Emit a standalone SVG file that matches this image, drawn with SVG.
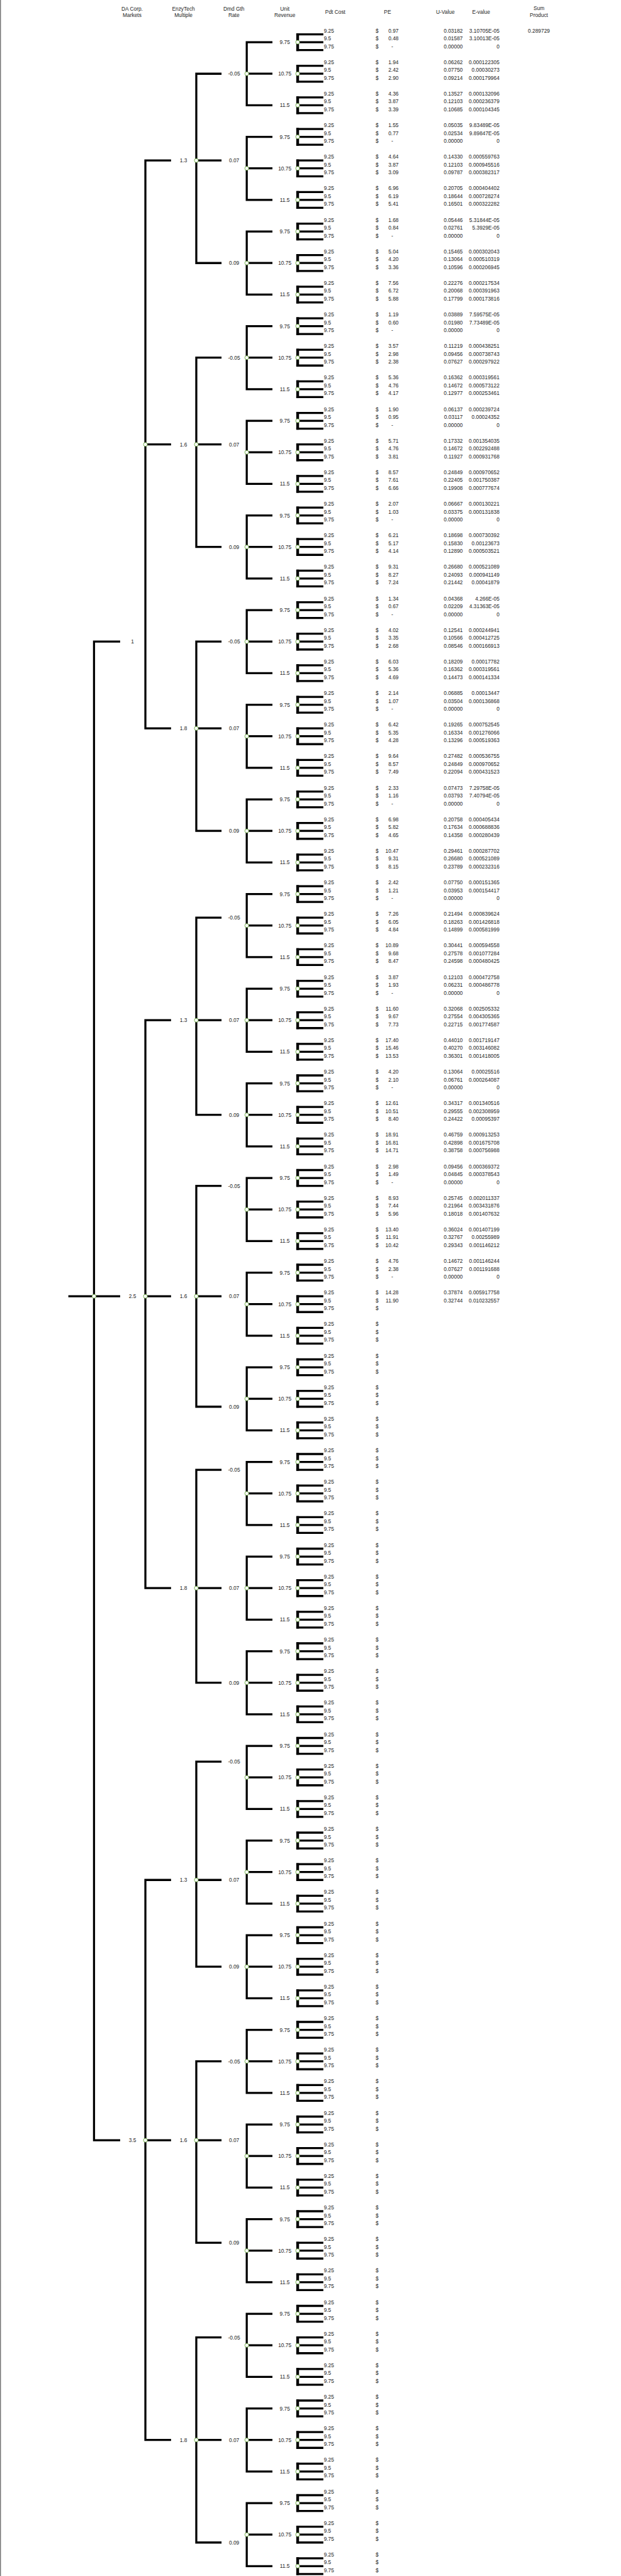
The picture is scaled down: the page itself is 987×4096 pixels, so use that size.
<svg xmlns="http://www.w3.org/2000/svg" xmlns:xlink="http://www.w3.org/1999/xlink" width="987" height="4096" viewBox="0 0 987 4096">
<style>
.t{font-family:"Liberation Sans",Arial,sans-serif;font-size:11.5px;fill:#1e1e1e}
.r{text-anchor:end}
.c{text-anchor:middle}
.nd{fill:#fff;stroke:#70ad47;stroke-width:1.3}
</style>
<defs>
<g id="lf"><path d="M646 74.8H705M646 92H705M646 109.2H705" stroke-width="4.5"/><path d="M649 72.6V111.4" stroke-width="6"/></g>
<g id="df"><path d="M594 92H538V229.6H594M538 160.8H594"/></g>
</defs>
<rect width="987" height="4096" fill="#fff"/>
<g transform="scale(0.72895)">
<path d="M1 0V5619" stroke="#777" stroke-width="2"/>
<g id="header">
<text class="t c" x="288" y="22.7">DA Corp.</text><text class="t c" x="288" y="37.3">Markets</text>
<text class="t c" x="400" y="22.7">EnzyTech</text><text class="t c" x="400" y="37.3">Multiple</text>
<text class="t c" x="510" y="22.7">Dmd Gth</text><text class="t c" x="510" y="37.3">Rate</text>
<text class="t c" x="621" y="22.7">Unit</text><text class="t c" x="621" y="37.3">Revenue</text>
<text class="t c" x="731" y="30.7">Pdt Cost</text>
<text class="t c" x="845" y="30.7">PE</text>
<text class="t c" x="971" y="30.7">U-Value</text>
<text class="t c" x="1049" y="30.7">E-value</text>
<text class="t c" x="1175" y="21.7">Sum</text><text class="t c" x="1175" y="37.3">Product</text>
<text class="t r" x="1199" y="70.7">0.289729</text>
</g>
<g id="connectors" fill="none" stroke="#000" stroke-width="4.5">
<path d="M262 1399.59H205V4668.54H262M149 2827.6H262"/>
<path d="M373 350.08H317V1588.84H373M317 969.46H373"/>
<path d="M373 2225.43H317V3464.19H373M317 2827.6H373"/>
<path d="M373 4100.77H317V5322.33H373M317 4668.54H373"/>
<path d="M483 160.83H428V573.75H483M428 350.08H483"/>
<path d="M483 780.21H428V1193.13H483M428 969.46H483"/>
<path d="M483 1399.59H428V1812.51H483M428 1588.84H483"/>
<path d="M483 2001.76H428V2431.89H483M428 2225.43H483"/>
<path d="M483 2586.73H428V3068.47H483M428 2827.6H483"/>
<path d="M483 3206.11H428V3670.65H483M428 3464.19H483"/>
<path d="M483 3842.7H428V4290.03H483M428 4100.77H483"/>
<path d="M483 4496.49H428V4892.2H483M428 4668.54H483"/>
<path d="M483 5098.66H428V5545.99H483M428 5322.33H483"/>
<use xlink:href="#df" y="0"/><use xlink:href="#df" y="206.46"/><use xlink:href="#df" y="412.92"/><use xlink:href="#df" y="619.38"/><use xlink:href="#df" y="825.84"/><use xlink:href="#df" y="1032.3"/><use xlink:href="#df" y="1238.76"/><use xlink:href="#df" y="1445.22"/><use xlink:href="#df" y="1651.68"/><use xlink:href="#df" y="1858.14"/><use xlink:href="#df" y="2064.6"/><use xlink:href="#df" y="2271.06"/><use xlink:href="#df" y="2477.52"/><use xlink:href="#df" y="2683.98"/><use xlink:href="#df" y="2890.44"/><use xlink:href="#df" y="3096.9"/><use xlink:href="#df" y="3303.36"/><use xlink:href="#df" y="3509.82"/><use xlink:href="#df" y="3716.28"/><use xlink:href="#df" y="3922.74"/><use xlink:href="#df" y="4129.2"/><use xlink:href="#df" y="4335.66"/><use xlink:href="#df" y="4542.12"/><use xlink:href="#df" y="4748.58"/><use xlink:href="#df" y="4955.04"/><use xlink:href="#df" y="5161.5"/><use xlink:href="#df" y="5367.96"/>
<use xlink:href="#lf" y="0"/><use xlink:href="#lf" y="68.82"/><use xlink:href="#lf" y="137.64"/><use xlink:href="#lf" y="206.46"/><use xlink:href="#lf" y="275.28"/><use xlink:href="#lf" y="344.1"/><use xlink:href="#lf" y="412.92"/><use xlink:href="#lf" y="481.74"/><use xlink:href="#lf" y="550.56"/><use xlink:href="#lf" y="619.38"/><use xlink:href="#lf" y="688.2"/><use xlink:href="#lf" y="757.02"/><use xlink:href="#lf" y="825.84"/><use xlink:href="#lf" y="894.66"/><use xlink:href="#lf" y="963.48"/><use xlink:href="#lf" y="1032.3"/><use xlink:href="#lf" y="1101.12"/><use xlink:href="#lf" y="1169.94"/><use xlink:href="#lf" y="1238.76"/><use xlink:href="#lf" y="1307.58"/><use xlink:href="#lf" y="1376.4"/><use xlink:href="#lf" y="1445.22"/><use xlink:href="#lf" y="1514.04"/><use xlink:href="#lf" y="1582.86"/><use xlink:href="#lf" y="1651.68"/><use xlink:href="#lf" y="1720.5"/><use xlink:href="#lf" y="1789.32"/><use xlink:href="#lf" y="1858.14"/><use xlink:href="#lf" y="1926.96"/><use xlink:href="#lf" y="1995.78"/><use xlink:href="#lf" y="2064.6"/><use xlink:href="#lf" y="2133.42"/><use xlink:href="#lf" y="2202.24"/><use xlink:href="#lf" y="2271.06"/><use xlink:href="#lf" y="2339.88"/><use xlink:href="#lf" y="2408.7"/><use xlink:href="#lf" y="2477.52"/><use xlink:href="#lf" y="2546.34"/><use xlink:href="#lf" y="2615.16"/><use xlink:href="#lf" y="2683.98"/><use xlink:href="#lf" y="2752.8"/><use xlink:href="#lf" y="2821.62"/><use xlink:href="#lf" y="2890.44"/><use xlink:href="#lf" y="2959.26"/><use xlink:href="#lf" y="3028.08"/><use xlink:href="#lf" y="3096.9"/><use xlink:href="#lf" y="3165.72"/><use xlink:href="#lf" y="3234.54"/><use xlink:href="#lf" y="3303.36"/><use xlink:href="#lf" y="3372.18"/><use xlink:href="#lf" y="3441"/><use xlink:href="#lf" y="3509.82"/><use xlink:href="#lf" y="3578.64"/><use xlink:href="#lf" y="3647.46"/><use xlink:href="#lf" y="3716.28"/><use xlink:href="#lf" y="3785.1"/><use xlink:href="#lf" y="3853.92"/><use xlink:href="#lf" y="3922.74"/><use xlink:href="#lf" y="3991.56"/><use xlink:href="#lf" y="4060.38"/><use xlink:href="#lf" y="4129.2"/><use xlink:href="#lf" y="4198.02"/><use xlink:href="#lf" y="4266.84"/><use xlink:href="#lf" y="4335.66"/><use xlink:href="#lf" y="4404.48"/><use xlink:href="#lf" y="4473.3"/><use xlink:href="#lf" y="4542.12"/><use xlink:href="#lf" y="4610.94"/><use xlink:href="#lf" y="4679.76"/><use xlink:href="#lf" y="4748.58"/><use xlink:href="#lf" y="4817.4"/><use xlink:href="#lf" y="4886.22"/><use xlink:href="#lf" y="4955.04"/><use xlink:href="#lf" y="5023.86"/><use xlink:href="#lf" y="5092.68"/><use xlink:href="#lf" y="5161.5"/><use xlink:href="#lf" y="5230.32"/><use xlink:href="#lf" y="5299.14"/><use xlink:href="#lf" y="5367.96"/><use xlink:href="#lf" y="5436.78"/><use xlink:href="#lf" y="5505.6"/>
</g>
<g id="root"><circle class="nd" cx="205" cy="2827.6" r="4.2"/></g>
<g id="da0"><circle class="nd" cx="317" cy="969.46" r="4.2"/><text class="t c" x="289" y="1403.8">1</text></g>
<g id="da1"><circle class="nd" cx="317" cy="2827.6" r="4.2"/><text class="t c" x="289" y="2831.8">2.5</text></g>
<g id="da2"><circle class="nd" cx="317" cy="4668.54" r="4.2"/><text class="t c" x="289" y="4672.7">3.5</text></g>
<g id="e0"><circle class="nd" cx="428" cy="350.08" r="4.2"/><text class="t c" x="400" y="354.3">1.3</text></g>
<g id="e1"><circle class="nd" cx="428" cy="969.46" r="4.2"/><text class="t c" x="400" y="973.7">1.6</text></g>
<g id="e2"><circle class="nd" cx="428" cy="1588.84" r="4.2"/><text class="t c" x="400" y="1593">1.8</text></g>
<g id="e3"><circle class="nd" cx="428" cy="2225.43" r="4.2"/><text class="t c" x="400" y="2229.6">1.3</text></g>
<g id="e4"><circle class="nd" cx="428" cy="2827.6" r="4.2"/><text class="t c" x="400" y="2831.8">1.6</text></g>
<g id="e5"><circle class="nd" cx="428" cy="3464.19" r="4.2"/><text class="t c" x="400" y="3468.4">1.8</text></g>
<g id="e6"><circle class="nd" cx="428" cy="4100.77" r="4.2"/><text class="t c" x="400" y="4105">1.3</text></g>
<g id="e7"><circle class="nd" cx="428" cy="4668.54" r="4.2"/><text class="t c" x="400" y="4672.7">1.6</text></g>
<g id="e8"><circle class="nd" cx="428" cy="5322.33" r="4.2"/><text class="t c" x="400" y="5326.5">1.8</text></g>
<g id="d0" transform="translate(0,0)"><circle class="nd" cx="538" cy="160.8" r="4.2"/><text class="t c" x="510.5" y="165">-0.05</text></g>
<g id="d1" transform="translate(0,206.46)"><circle class="nd" cx="538" cy="160.8" r="4.2"/><text class="t c" x="510.5" y="147.8">0.07</text></g>
<g id="d2" transform="translate(0,412.92)"><circle class="nd" cx="538" cy="160.8" r="4.2"/><text class="t c" x="510.5" y="165">0.09</text></g>
<g id="d3" transform="translate(0,619.38)"><circle class="nd" cx="538" cy="160.8" r="4.2"/><text class="t c" x="510.5" y="165">-0.05</text></g>
<g id="d4" transform="translate(0,825.84)"><circle class="nd" cx="538" cy="160.8" r="4.2"/><text class="t c" x="510.5" y="147.8">0.07</text></g>
<g id="d5" transform="translate(0,1032.3)"><circle class="nd" cx="538" cy="160.8" r="4.2"/><text class="t c" x="510.5" y="165">0.09</text></g>
<g id="d6" transform="translate(0,1238.76)"><circle class="nd" cx="538" cy="160.8" r="4.2"/><text class="t c" x="510.5" y="165">-0.05</text></g>
<g id="d7" transform="translate(0,1445.22)"><circle class="nd" cx="538" cy="160.8" r="4.2"/><text class="t c" x="510.5" y="147.8">0.07</text></g>
<g id="d8" transform="translate(0,1651.68)"><circle class="nd" cx="538" cy="160.8" r="4.2"/><text class="t c" x="510.5" y="165">0.09</text></g>
<g id="d9" transform="translate(0,1858.14)"><circle class="nd" cx="538" cy="160.8" r="4.2"/><text class="t c" x="510.5" y="147.8">-0.05</text></g>
<g id="d10" transform="translate(0,2064.6)"><circle class="nd" cx="538" cy="160.8" r="4.2"/><text class="t c" x="510.5" y="165">0.07</text></g>
<g id="d11" transform="translate(0,2271.06)"><circle class="nd" cx="538" cy="160.8" r="4.2"/><text class="t c" x="510.5" y="165">0.09</text></g>
<g id="d12" transform="translate(0,2477.52)"><circle class="nd" cx="538" cy="160.8" r="4.2"/><text class="t c" x="510.5" y="113.4">-0.05</text></g>
<g id="d13" transform="translate(0,2683.98)"><circle class="nd" cx="538" cy="160.8" r="4.2"/><text class="t c" x="510.5" y="147.8">0.07</text></g>
<g id="d14" transform="translate(0,2890.44)"><circle class="nd" cx="538" cy="160.8" r="4.2"/><text class="t c" x="510.5" y="182.2">0.09</text></g>
<g id="d15" transform="translate(0,3096.9)"><circle class="nd" cx="538" cy="160.8" r="4.2"/><text class="t c" x="510.5" y="113.4">-0.05</text></g>
<g id="d16" transform="translate(0,3303.36)"><circle class="nd" cx="538" cy="160.8" r="4.2"/><text class="t c" x="510.5" y="165">0.07</text></g>
<g id="d17" transform="translate(0,3509.82)"><circle class="nd" cx="538" cy="160.8" r="4.2"/><text class="t c" x="510.5" y="165">0.09</text></g>
<g id="d18" transform="translate(0,3716.28)"><circle class="nd" cx="538" cy="160.8" r="4.2"/><text class="t c" x="510.5" y="130.6">-0.05</text></g>
<g id="d19" transform="translate(0,3922.74)"><circle class="nd" cx="538" cy="160.8" r="4.2"/><text class="t c" x="510.5" y="182.2">0.07</text></g>
<g id="d20" transform="translate(0,4129.2)"><circle class="nd" cx="538" cy="160.8" r="4.2"/><text class="t c" x="510.5" y="165">0.09</text></g>
<g id="d21" transform="translate(0,4335.66)"><circle class="nd" cx="538" cy="160.8" r="4.2"/><text class="t c" x="510.5" y="165">-0.05</text></g>
<g id="d22" transform="translate(0,4542.12)"><circle class="nd" cx="538" cy="160.8" r="4.2"/><text class="t c" x="510.5" y="130.6">0.07</text></g>
<g id="d23" transform="translate(0,4748.58)"><circle class="nd" cx="538" cy="160.8" r="4.2"/><text class="t c" x="510.5" y="147.8">0.09</text></g>
<g id="d24" transform="translate(0,4955.04)"><circle class="nd" cx="538" cy="160.8" r="4.2"/><text class="t c" x="510.5" y="147.8">-0.05</text></g>
<g id="d25" transform="translate(0,5161.5)"><circle class="nd" cx="538" cy="160.8" r="4.2"/><text class="t c" x="510.5" y="165">0.07</text></g>
<g id="d26" transform="translate(0,5367.96)"><circle class="nd" cx="538" cy="160.8" r="4.2"/><text class="t c" x="510.5" y="182.2">0.09</text></g>

<g id="u0" transform="translate(0,0)"><circle class="nd" cx="649" cy="92" r="4.2"/><text class="t c" x="621" y="96.2">9.75</text><text class="t"><tspan x="706" y="70.7">9.25</tspan><tspan x="819" y="70.7">$</tspan><tspan x="706" y="87.9">9.5</tspan><tspan x="819" y="87.9">$</tspan><tspan x="706" y="105.1">9.75</tspan><tspan x="819" y="105.1">$</tspan></text><text class="t r"><tspan x="869" y="70.7">0.97</tspan><tspan x="1009" y="70.7">0.03182</tspan><tspan x="1089" y="70.7">3.10705E-05</tspan><tspan x="869" y="87.9">0.48</tspan><tspan x="1009" y="87.9">0.01587</tspan><tspan x="1089" y="87.9">3.10013E-05</tspan><tspan x="857" y="105.1">-</tspan><tspan x="1009" y="105.1">0.00000</tspan><tspan x="1089" y="105.1">0</tspan></text></g>
<g id="u1" transform="translate(0,68.82)"><circle class="nd" cx="649" cy="92" r="4.2"/><text class="t c" x="621" y="96.2">10.75</text><text class="t"><tspan x="706" y="70.7">9.25</tspan><tspan x="819" y="70.7">$</tspan><tspan x="706" y="87.9">9.5</tspan><tspan x="819" y="87.9">$</tspan><tspan x="706" y="105.1">9.75</tspan><tspan x="819" y="105.1">$</tspan></text><text class="t r"><tspan x="869" y="70.7">1.94</tspan><tspan x="1009" y="70.7">0.06262</tspan><tspan x="1089" y="70.7">0.000122305</tspan><tspan x="869" y="87.9">2.42</tspan><tspan x="1009" y="87.9">0.07750</tspan><tspan x="1089" y="87.9">0.00030273</tspan><tspan x="869" y="105.1">2.90</tspan><tspan x="1009" y="105.1">0.09214</tspan><tspan x="1089" y="105.1">0.000179964</tspan></text></g>
<g id="u2" transform="translate(0,137.64)"><circle class="nd" cx="649" cy="92" r="4.2"/><text class="t c" x="621" y="96.2">11.5</text><text class="t"><tspan x="706" y="70.7">9.25</tspan><tspan x="819" y="70.7">$</tspan><tspan x="706" y="87.9">9.5</tspan><tspan x="819" y="87.9">$</tspan><tspan x="706" y="105.1">9.75</tspan><tspan x="819" y="105.1">$</tspan></text><text class="t r"><tspan x="869" y="70.7">4.36</tspan><tspan x="1009" y="70.7">0.13527</tspan><tspan x="1089" y="70.7">0.000132096</tspan><tspan x="869" y="87.9">3.87</tspan><tspan x="1009" y="87.9">0.12103</tspan><tspan x="1089" y="87.9">0.000236379</tspan><tspan x="869" y="105.1">3.39</tspan><tspan x="1009" y="105.1">0.10685</tspan><tspan x="1089" y="105.1">0.000104345</tspan></text></g>
<g id="u3" transform="translate(0,206.46)"><circle class="nd" cx="649" cy="92" r="4.2"/><text class="t c" x="621" y="96.2">9.75</text><text class="t"><tspan x="706" y="70.7">9.25</tspan><tspan x="819" y="70.7">$</tspan><tspan x="706" y="87.9">9.5</tspan><tspan x="819" y="87.9">$</tspan><tspan x="706" y="105.1">9.75</tspan><tspan x="819" y="105.1">$</tspan></text><text class="t r"><tspan x="869" y="70.7">1.55</tspan><tspan x="1009" y="70.7">0.05035</tspan><tspan x="1089" y="70.7">9.83489E-05</tspan><tspan x="869" y="87.9">0.77</tspan><tspan x="1009" y="87.9">0.02534</tspan><tspan x="1089" y="87.9">9.89847E-05</tspan><tspan x="857" y="105.1">-</tspan><tspan x="1009" y="105.1">0.00000</tspan><tspan x="1089" y="105.1">0</tspan></text></g>
<g id="u4" transform="translate(0,275.28)"><circle class="nd" cx="649" cy="92" r="4.2"/><text class="t c" x="621" y="96.2">10.75</text><text class="t"><tspan x="706" y="70.7">9.25</tspan><tspan x="819" y="70.7">$</tspan><tspan x="706" y="87.9">9.5</tspan><tspan x="819" y="87.9">$</tspan><tspan x="706" y="105.1">9.75</tspan><tspan x="819" y="105.1">$</tspan></text><text class="t r"><tspan x="869" y="70.7">4.64</tspan><tspan x="1009" y="70.7">0.14330</tspan><tspan x="1089" y="70.7">0.000559763</tspan><tspan x="869" y="87.9">3.87</tspan><tspan x="1009" y="87.9">0.12103</tspan><tspan x="1089" y="87.9">0.000945516</tspan><tspan x="869" y="105.1">3.09</tspan><tspan x="1009" y="105.1">0.09787</tspan><tspan x="1089" y="105.1">0.000382317</tspan></text></g>
<g id="u5" transform="translate(0,344.1)"><circle class="nd" cx="649" cy="92" r="4.2"/><text class="t c" x="621" y="96.2">11.5</text><text class="t"><tspan x="706" y="70.7">9.25</tspan><tspan x="819" y="70.7">$</tspan><tspan x="706" y="87.9">9.5</tspan><tspan x="819" y="87.9">$</tspan><tspan x="706" y="105.1">9.75</tspan><tspan x="819" y="105.1">$</tspan></text><text class="t r"><tspan x="869" y="70.7">6.96</tspan><tspan x="1009" y="70.7">0.20705</tspan><tspan x="1089" y="70.7">0.000404402</tspan><tspan x="869" y="87.9">6.19</tspan><tspan x="1009" y="87.9">0.18644</tspan><tspan x="1089" y="87.9">0.000728274</tspan><tspan x="869" y="105.1">5.41</tspan><tspan x="1009" y="105.1">0.16501</tspan><tspan x="1089" y="105.1">0.000322282</tspan></text></g>
<g id="u6" transform="translate(0,412.92)"><circle class="nd" cx="649" cy="92" r="4.2"/><text class="t c" x="621" y="96.2">9.75</text><text class="t"><tspan x="706" y="70.7">9.25</tspan><tspan x="819" y="70.7">$</tspan><tspan x="706" y="87.9">9.5</tspan><tspan x="819" y="87.9">$</tspan><tspan x="706" y="105.1">9.75</tspan><tspan x="819" y="105.1">$</tspan></text><text class="t r"><tspan x="869" y="70.7">1.68</tspan><tspan x="1009" y="70.7">0.05446</tspan><tspan x="1089" y="70.7">5.31844E-05</tspan><tspan x="869" y="87.9">0.84</tspan><tspan x="1009" y="87.9">0.02761</tspan><tspan x="1089" y="87.9">5.3929E-05</tspan><tspan x="857" y="105.1">-</tspan><tspan x="1009" y="105.1">0.00000</tspan><tspan x="1089" y="105.1">0</tspan></text></g>
<g id="u7" transform="translate(0,481.74)"><circle class="nd" cx="649" cy="92" r="4.2"/><text class="t c" x="621" y="96.2">10.75</text><text class="t"><tspan x="706" y="70.7">9.25</tspan><tspan x="819" y="70.7">$</tspan><tspan x="706" y="87.9">9.5</tspan><tspan x="819" y="87.9">$</tspan><tspan x="706" y="105.1">9.75</tspan><tspan x="819" y="105.1">$</tspan></text><text class="t r"><tspan x="869" y="70.7">5.04</tspan><tspan x="1009" y="70.7">0.15465</tspan><tspan x="1089" y="70.7">0.000302043</tspan><tspan x="869" y="87.9">4.20</tspan><tspan x="1009" y="87.9">0.13064</tspan><tspan x="1089" y="87.9">0.000510319</tspan><tspan x="869" y="105.1">3.36</tspan><tspan x="1009" y="105.1">0.10596</tspan><tspan x="1089" y="105.1">0.000206945</tspan></text></g>
<g id="u8" transform="translate(0,550.56)"><circle class="nd" cx="649" cy="92" r="4.2"/><text class="t c" x="621" y="96.2">11.5</text><text class="t"><tspan x="706" y="70.7">9.25</tspan><tspan x="819" y="70.7">$</tspan><tspan x="706" y="87.9">9.5</tspan><tspan x="819" y="87.9">$</tspan><tspan x="706" y="105.1">9.75</tspan><tspan x="819" y="105.1">$</tspan></text><text class="t r"><tspan x="869" y="70.7">7.56</tspan><tspan x="1009" y="70.7">0.22276</tspan><tspan x="1089" y="70.7">0.000217534</tspan><tspan x="869" y="87.9">6.72</tspan><tspan x="1009" y="87.9">0.20068</tspan><tspan x="1089" y="87.9">0.000391963</tspan><tspan x="869" y="105.1">5.88</tspan><tspan x="1009" y="105.1">0.17799</tspan><tspan x="1089" y="105.1">0.000173816</tspan></text></g>
<g id="u9" transform="translate(0,619.38)"><circle class="nd" cx="649" cy="92" r="4.2"/><text class="t c" x="621" y="96.2">9.75</text><text class="t"><tspan x="706" y="70.7">9.25</tspan><tspan x="819" y="70.7">$</tspan><tspan x="706" y="87.9">9.5</tspan><tspan x="819" y="87.9">$</tspan><tspan x="706" y="105.1">9.75</tspan><tspan x="819" y="105.1">$</tspan></text><text class="t r"><tspan x="869" y="70.7">1.19</tspan><tspan x="1009" y="70.7">0.03889</tspan><tspan x="1089" y="70.7">7.59575E-05</tspan><tspan x="869" y="87.9">0.60</tspan><tspan x="1009" y="87.9">0.01980</tspan><tspan x="1089" y="87.9">7.73489E-05</tspan><tspan x="857" y="105.1">-</tspan><tspan x="1009" y="105.1">0.00000</tspan><tspan x="1089" y="105.1">0</tspan></text></g>
<g id="u10" transform="translate(0,688.2)"><circle class="nd" cx="649" cy="92" r="4.2"/><text class="t c" x="621" y="96.2">10.75</text><text class="t"><tspan x="706" y="70.7">9.25</tspan><tspan x="819" y="70.7">$</tspan><tspan x="706" y="87.9">9.5</tspan><tspan x="819" y="87.9">$</tspan><tspan x="706" y="105.1">9.75</tspan><tspan x="819" y="105.1">$</tspan></text><text class="t r"><tspan x="869" y="70.7">3.57</tspan><tspan x="1009" y="70.7">0.11219</tspan><tspan x="1089" y="70.7">0.000438251</tspan><tspan x="869" y="87.9">2.98</tspan><tspan x="1009" y="87.9">0.09456</tspan><tspan x="1089" y="87.9">0.000738743</tspan><tspan x="869" y="105.1">2.38</tspan><tspan x="1009" y="105.1">0.07627</tspan><tspan x="1089" y="105.1">0.000297922</tspan></text></g>
<g id="u11" transform="translate(0,757.02)"><circle class="nd" cx="649" cy="92" r="4.2"/><text class="t c" x="621" y="96.2">11.5</text><text class="t"><tspan x="706" y="70.7">9.25</tspan><tspan x="819" y="70.7">$</tspan><tspan x="706" y="87.9">9.5</tspan><tspan x="819" y="87.9">$</tspan><tspan x="706" y="105.1">9.75</tspan><tspan x="819" y="105.1">$</tspan></text><text class="t r"><tspan x="869" y="70.7">5.36</tspan><tspan x="1009" y="70.7">0.16362</tspan><tspan x="1089" y="70.7">0.000319561</tspan><tspan x="869" y="87.9">4.76</tspan><tspan x="1009" y="87.9">0.14672</tspan><tspan x="1089" y="87.9">0.000573122</tspan><tspan x="869" y="105.1">4.17</tspan><tspan x="1009" y="105.1">0.12977</tspan><tspan x="1089" y="105.1">0.000253461</tspan></text></g>
<g id="u12" transform="translate(0,825.84)"><circle class="nd" cx="649" cy="92" r="4.2"/><text class="t c" x="621" y="96.2">9.75</text><text class="t"><tspan x="706" y="70.7">9.25</tspan><tspan x="819" y="70.7">$</tspan><tspan x="706" y="87.9">9.5</tspan><tspan x="819" y="87.9">$</tspan><tspan x="706" y="105.1">9.75</tspan><tspan x="819" y="105.1">$</tspan></text><text class="t r"><tspan x="869" y="70.7">1.90</tspan><tspan x="1009" y="70.7">0.06137</tspan><tspan x="1089" y="70.7">0.000239724</tspan><tspan x="869" y="87.9">0.95</tspan><tspan x="1009" y="87.9">0.03117</tspan><tspan x="1089" y="87.9">0.00024352</tspan><tspan x="857" y="105.1">-</tspan><tspan x="1009" y="105.1">0.00000</tspan><tspan x="1089" y="105.1">0</tspan></text></g>
<g id="u13" transform="translate(0,894.66)"><circle class="nd" cx="649" cy="92" r="4.2"/><text class="t c" x="621" y="96.2">10.75</text><text class="t"><tspan x="706" y="70.7">9.25</tspan><tspan x="819" y="70.7">$</tspan><tspan x="706" y="87.9">9.5</tspan><tspan x="819" y="87.9">$</tspan><tspan x="706" y="105.1">9.75</tspan><tspan x="819" y="105.1">$</tspan></text><text class="t r"><tspan x="869" y="70.7">5.71</tspan><tspan x="1009" y="70.7">0.17332</tspan><tspan x="1089" y="70.7">0.001354035</tspan><tspan x="869" y="87.9">4.76</tspan><tspan x="1009" y="87.9">0.14672</tspan><tspan x="1089" y="87.9">0.002292488</tspan><tspan x="869" y="105.1">3.81</tspan><tspan x="1009" y="105.1">0.11927</tspan><tspan x="1089" y="105.1">0.000931768</tspan></text></g>
<g id="u14" transform="translate(0,963.48)"><circle class="nd" cx="649" cy="92" r="4.2"/><text class="t c" x="621" y="96.2">11.5</text><text class="t"><tspan x="706" y="70.7">9.25</tspan><tspan x="819" y="70.7">$</tspan><tspan x="706" y="87.9">9.5</tspan><tspan x="819" y="87.9">$</tspan><tspan x="706" y="105.1">9.75</tspan><tspan x="819" y="105.1">$</tspan></text><text class="t r"><tspan x="869" y="70.7">8.57</tspan><tspan x="1009" y="70.7">0.24849</tspan><tspan x="1089" y="70.7">0.000970652</tspan><tspan x="869" y="87.9">7.61</tspan><tspan x="1009" y="87.9">0.22405</tspan><tspan x="1089" y="87.9">0.001750387</tspan><tspan x="869" y="105.1">6.66</tspan><tspan x="1009" y="105.1">0.19908</tspan><tspan x="1089" y="105.1">0.000777674</tspan></text></g>
<g id="u15" transform="translate(0,1032.3)"><circle class="nd" cx="649" cy="92" r="4.2"/><text class="t c" x="621" y="96.2">9.75</text><text class="t"><tspan x="706" y="70.7">9.25</tspan><tspan x="819" y="70.7">$</tspan><tspan x="706" y="87.9">9.5</tspan><tspan x="819" y="87.9">$</tspan><tspan x="706" y="105.1">9.75</tspan><tspan x="819" y="105.1">$</tspan></text><text class="t r"><tspan x="869" y="70.7">2.07</tspan><tspan x="1009" y="70.7">0.06667</tspan><tspan x="1089" y="70.7">0.000130221</tspan><tspan x="869" y="87.9">1.03</tspan><tspan x="1009" y="87.9">0.03375</tspan><tspan x="1089" y="87.9">0.000131838</tspan><tspan x="857" y="105.1">-</tspan><tspan x="1009" y="105.1">0.00000</tspan><tspan x="1089" y="105.1">0</tspan></text></g>
<g id="u16" transform="translate(0,1101.12)"><circle class="nd" cx="649" cy="92" r="4.2"/><text class="t c" x="621" y="96.2">10.75</text><text class="t"><tspan x="706" y="70.7">9.25</tspan><tspan x="819" y="70.7">$</tspan><tspan x="706" y="87.9">9.5</tspan><tspan x="819" y="87.9">$</tspan><tspan x="706" y="105.1">9.75</tspan><tspan x="819" y="105.1">$</tspan></text><text class="t r"><tspan x="869" y="70.7">6.21</tspan><tspan x="1009" y="70.7">0.18698</tspan><tspan x="1089" y="70.7">0.000730392</tspan><tspan x="869" y="87.9">5.17</tspan><tspan x="1009" y="87.9">0.15830</tspan><tspan x="1089" y="87.9">0.00123673</tspan><tspan x="869" y="105.1">4.14</tspan><tspan x="1009" y="105.1">0.12890</tspan><tspan x="1089" y="105.1">0.000503521</tspan></text></g>
<g id="u17" transform="translate(0,1169.94)"><circle class="nd" cx="649" cy="92" r="4.2"/><text class="t c" x="621" y="96.2">11.5</text><text class="t"><tspan x="706" y="70.7">9.25</tspan><tspan x="819" y="70.7">$</tspan><tspan x="706" y="87.9">9.5</tspan><tspan x="819" y="87.9">$</tspan><tspan x="706" y="105.1">9.75</tspan><tspan x="819" y="105.1">$</tspan></text><text class="t r"><tspan x="869" y="70.7">9.31</tspan><tspan x="1009" y="70.7">0.26680</tspan><tspan x="1089" y="70.7">0.000521089</tspan><tspan x="869" y="87.9">8.27</tspan><tspan x="1009" y="87.9">0.24093</tspan><tspan x="1089" y="87.9">0.000941149</tspan><tspan x="869" y="105.1">7.24</tspan><tspan x="1009" y="105.1">0.21442</tspan><tspan x="1089" y="105.1">0.00041879</tspan></text></g>
<g id="u18" transform="translate(0,1238.76)"><circle class="nd" cx="649" cy="92" r="4.2"/><text class="t c" x="621" y="96.2">9.75</text><text class="t"><tspan x="706" y="70.7">9.25</tspan><tspan x="819" y="70.7">$</tspan><tspan x="706" y="87.9">9.5</tspan><tspan x="819" y="87.9">$</tspan><tspan x="706" y="105.1">9.75</tspan><tspan x="819" y="105.1">$</tspan></text><text class="t r"><tspan x="869" y="70.7">1.34</tspan><tspan x="1009" y="70.7">0.04368</tspan><tspan x="1089" y="70.7">4.266E-05</tspan><tspan x="869" y="87.9">0.67</tspan><tspan x="1009" y="87.9">0.02209</tspan><tspan x="1089" y="87.9">4.31363E-05</tspan><tspan x="857" y="105.1">-</tspan><tspan x="1009" y="105.1">0.00000</tspan><tspan x="1089" y="105.1">0</tspan></text></g>
<g id="u19" transform="translate(0,1307.58)"><circle class="nd" cx="649" cy="92" r="4.2"/><text class="t c" x="621" y="96.2">10.75</text><text class="t"><tspan x="706" y="70.7">9.25</tspan><tspan x="819" y="70.7">$</tspan><tspan x="706" y="87.9">9.5</tspan><tspan x="819" y="87.9">$</tspan><tspan x="706" y="105.1">9.75</tspan><tspan x="819" y="105.1">$</tspan></text><text class="t r"><tspan x="869" y="70.7">4.02</tspan><tspan x="1009" y="70.7">0.12541</tspan><tspan x="1089" y="70.7">0.000244941</tspan><tspan x="869" y="87.9">3.35</tspan><tspan x="1009" y="87.9">0.10566</tspan><tspan x="1089" y="87.9">0.000412725</tspan><tspan x="869" y="105.1">2.68</tspan><tspan x="1009" y="105.1">0.08546</tspan><tspan x="1089" y="105.1">0.000166913</tspan></text></g>
<g id="u20" transform="translate(0,1376.4)"><circle class="nd" cx="649" cy="92" r="4.2"/><text class="t c" x="621" y="96.2">11.5</text><text class="t"><tspan x="706" y="70.7">9.25</tspan><tspan x="819" y="70.7">$</tspan><tspan x="706" y="87.9">9.5</tspan><tspan x="819" y="87.9">$</tspan><tspan x="706" y="105.1">9.75</tspan><tspan x="819" y="105.1">$</tspan></text><text class="t r"><tspan x="869" y="70.7">6.03</tspan><tspan x="1009" y="70.7">0.18209</tspan><tspan x="1089" y="70.7">0.00017782</tspan><tspan x="869" y="87.9">5.36</tspan><tspan x="1009" y="87.9">0.16362</tspan><tspan x="1089" y="87.9">0.000319561</tspan><tspan x="869" y="105.1">4.69</tspan><tspan x="1009" y="105.1">0.14473</tspan><tspan x="1089" y="105.1">0.000141334</tspan></text></g>
<g id="u21" transform="translate(0,1445.22)"><circle class="nd" cx="649" cy="92" r="4.2"/><text class="t c" x="621" y="96.2">9.75</text><text class="t"><tspan x="706" y="70.7">9.25</tspan><tspan x="819" y="70.7">$</tspan><tspan x="706" y="87.9">9.5</tspan><tspan x="819" y="87.9">$</tspan><tspan x="706" y="105.1">9.75</tspan><tspan x="819" y="105.1">$</tspan></text><text class="t r"><tspan x="869" y="70.7">2.14</tspan><tspan x="1009" y="70.7">0.06885</tspan><tspan x="1089" y="70.7">0.00013447</tspan><tspan x="869" y="87.9">1.07</tspan><tspan x="1009" y="87.9">0.03504</tspan><tspan x="1089" y="87.9">0.000136868</tspan><tspan x="857" y="105.1">-</tspan><tspan x="1009" y="105.1">0.00000</tspan><tspan x="1089" y="105.1">0</tspan></text></g>
<g id="u22" transform="translate(0,1514.04)"><circle class="nd" cx="649" cy="92" r="4.2"/><text class="t c" x="621" y="96.2">10.75</text><text class="t"><tspan x="706" y="70.7">9.25</tspan><tspan x="819" y="70.7">$</tspan><tspan x="706" y="87.9">9.5</tspan><tspan x="819" y="87.9">$</tspan><tspan x="706" y="105.1">9.75</tspan><tspan x="819" y="105.1">$</tspan></text><text class="t r"><tspan x="869" y="70.7">6.42</tspan><tspan x="1009" y="70.7">0.19265</tspan><tspan x="1089" y="70.7">0.000752545</tspan><tspan x="869" y="87.9">5.35</tspan><tspan x="1009" y="87.9">0.16334</tspan><tspan x="1089" y="87.9">0.001276066</tspan><tspan x="869" y="105.1">4.28</tspan><tspan x="1009" y="105.1">0.13296</tspan><tspan x="1089" y="105.1">0.000519363</tspan></text></g>
<g id="u23" transform="translate(0,1582.86)"><circle class="nd" cx="649" cy="92" r="4.2"/><text class="t c" x="621" y="96.2">11.5</text><text class="t"><tspan x="706" y="70.7">9.25</tspan><tspan x="819" y="70.7">$</tspan><tspan x="706" y="87.9">9.5</tspan><tspan x="819" y="87.9">$</tspan><tspan x="706" y="105.1">9.75</tspan><tspan x="819" y="105.1">$</tspan></text><text class="t r"><tspan x="869" y="70.7">9.64</tspan><tspan x="1009" y="70.7">0.27482</tspan><tspan x="1089" y="70.7">0.000536755</tspan><tspan x="869" y="87.9">8.57</tspan><tspan x="1009" y="87.9">0.24849</tspan><tspan x="1089" y="87.9">0.000970652</tspan><tspan x="869" y="105.1">7.49</tspan><tspan x="1009" y="105.1">0.22094</tspan><tspan x="1089" y="105.1">0.000431523</tspan></text></g>
<g id="u24" transform="translate(0,1651.68)"><circle class="nd" cx="649" cy="92" r="4.2"/><text class="t c" x="621" y="96.2">9.75</text><text class="t"><tspan x="706" y="70.7">9.25</tspan><tspan x="819" y="70.7">$</tspan><tspan x="706" y="87.9">9.5</tspan><tspan x="819" y="87.9">$</tspan><tspan x="706" y="105.1">9.75</tspan><tspan x="819" y="105.1">$</tspan></text><text class="t r"><tspan x="869" y="70.7">2.33</tspan><tspan x="1009" y="70.7">0.07473</tspan><tspan x="1089" y="70.7">7.29758E-05</tspan><tspan x="869" y="87.9">1.16</tspan><tspan x="1009" y="87.9">0.03793</tspan><tspan x="1089" y="87.9">7.40794E-05</tspan><tspan x="857" y="105.1">-</tspan><tspan x="1009" y="105.1">0.00000</tspan><tspan x="1089" y="105.1">0</tspan></text></g>
<g id="u25" transform="translate(0,1720.5)"><circle class="nd" cx="649" cy="92" r="4.2"/><text class="t c" x="621" y="96.2">10.75</text><text class="t"><tspan x="706" y="70.7">9.25</tspan><tspan x="819" y="70.7">$</tspan><tspan x="706" y="87.9">9.5</tspan><tspan x="819" y="87.9">$</tspan><tspan x="706" y="105.1">9.75</tspan><tspan x="819" y="105.1">$</tspan></text><text class="t r"><tspan x="869" y="70.7">6.98</tspan><tspan x="1009" y="70.7">0.20758</tspan><tspan x="1089" y="70.7">0.000405434</tspan><tspan x="869" y="87.9">5.82</tspan><tspan x="1009" y="87.9">0.17634</tspan><tspan x="1089" y="87.9">0.000688836</tspan><tspan x="869" y="105.1">4.65</tspan><tspan x="1009" y="105.1">0.14358</tspan><tspan x="1089" y="105.1">0.000280439</tspan></text></g>
<g id="u26" transform="translate(0,1789.32)"><circle class="nd" cx="649" cy="92" r="4.2"/><text class="t c" x="621" y="96.2">11.5</text><text class="t"><tspan x="706" y="70.7">9.25</tspan><tspan x="819" y="70.7">$</tspan><tspan x="706" y="87.9">9.5</tspan><tspan x="819" y="87.9">$</tspan><tspan x="706" y="105.1">9.75</tspan><tspan x="819" y="105.1">$</tspan></text><text class="t r"><tspan x="869" y="70.7">10.47</tspan><tspan x="1009" y="70.7">0.29461</tspan><tspan x="1089" y="70.7">0.000287702</tspan><tspan x="869" y="87.9">9.31</tspan><tspan x="1009" y="87.9">0.26680</tspan><tspan x="1089" y="87.9">0.000521089</tspan><tspan x="869" y="105.1">8.15</tspan><tspan x="1009" y="105.1">0.23789</tspan><tspan x="1089" y="105.1">0.000232316</tspan></text></g>
<g id="u27" transform="translate(0,1858.14)"><circle class="nd" cx="649" cy="92" r="4.2"/><text class="t c" x="621" y="96.2">9.75</text><text class="t"><tspan x="706" y="70.7">9.25</tspan><tspan x="819" y="70.7">$</tspan><tspan x="706" y="87.9">9.5</tspan><tspan x="819" y="87.9">$</tspan><tspan x="706" y="105.1">9.75</tspan><tspan x="819" y="105.1">$</tspan></text><text class="t r"><tspan x="869" y="70.7">2.42</tspan><tspan x="1009" y="70.7">0.07750</tspan><tspan x="1089" y="70.7">0.000151365</tspan><tspan x="869" y="87.9">1.21</tspan><tspan x="1009" y="87.9">0.03953</tspan><tspan x="1089" y="87.9">0.000154417</tspan><tspan x="857" y="105.1">-</tspan><tspan x="1009" y="105.1">0.00000</tspan><tspan x="1089" y="105.1">0</tspan></text></g>
<g id="u28" transform="translate(0,1926.96)"><circle class="nd" cx="649" cy="92" r="4.2"/><text class="t c" x="621" y="96.2">10.75</text><text class="t"><tspan x="706" y="70.7">9.25</tspan><tspan x="819" y="70.7">$</tspan><tspan x="706" y="87.9">9.5</tspan><tspan x="819" y="87.9">$</tspan><tspan x="706" y="105.1">9.75</tspan><tspan x="819" y="105.1">$</tspan></text><text class="t r"><tspan x="869" y="70.7">7.26</tspan><tspan x="1009" y="70.7">0.21494</tspan><tspan x="1089" y="70.7">0.000839624</tspan><tspan x="869" y="87.9">6.05</tspan><tspan x="1009" y="87.9">0.18263</tspan><tspan x="1089" y="87.9">0.001426818</tspan><tspan x="869" y="105.1">4.84</tspan><tspan x="1009" y="105.1">0.14899</tspan><tspan x="1089" y="105.1">0.000581999</tspan></text></g>
<g id="u29" transform="translate(0,1995.78)"><circle class="nd" cx="649" cy="92" r="4.2"/><text class="t c" x="621" y="96.2">11.5</text><text class="t"><tspan x="706" y="70.7">9.25</tspan><tspan x="819" y="70.7">$</tspan><tspan x="706" y="87.9">9.5</tspan><tspan x="819" y="87.9">$</tspan><tspan x="706" y="105.1">9.75</tspan><tspan x="819" y="105.1">$</tspan></text><text class="t r"><tspan x="869" y="70.7">10.89</tspan><tspan x="1009" y="70.7">0.30441</tspan><tspan x="1089" y="70.7">0.000594558</tspan><tspan x="869" y="87.9">9.68</tspan><tspan x="1009" y="87.9">0.27578</tspan><tspan x="1089" y="87.9">0.001077284</tspan><tspan x="869" y="105.1">8.47</tspan><tspan x="1009" y="105.1">0.24598</tspan><tspan x="1089" y="105.1">0.000480425</tspan></text></g>
<g id="u30" transform="translate(0,2064.6)"><circle class="nd" cx="649" cy="92" r="4.2"/><text class="t c" x="621" y="96.2">9.75</text><text class="t"><tspan x="706" y="70.7">9.25</tspan><tspan x="819" y="70.7">$</tspan><tspan x="706" y="87.9">9.5</tspan><tspan x="819" y="87.9">$</tspan><tspan x="706" y="105.1">9.75</tspan><tspan x="819" y="105.1">$</tspan></text><text class="t r"><tspan x="869" y="70.7">3.87</tspan><tspan x="1009" y="70.7">0.12103</tspan><tspan x="1089" y="70.7">0.000472758</tspan><tspan x="869" y="87.9">1.93</tspan><tspan x="1009" y="87.9">0.06231</tspan><tspan x="1089" y="87.9">0.000486778</tspan><tspan x="857" y="105.1">-</tspan><tspan x="1009" y="105.1">0.00000</tspan><tspan x="1089" y="105.1">0</tspan></text></g>
<g id="u31" transform="translate(0,2133.42)"><circle class="nd" cx="649" cy="92" r="4.2"/><text class="t c" x="621" y="96.2">10.75</text><text class="t"><tspan x="706" y="70.7">9.25</tspan><tspan x="819" y="70.7">$</tspan><tspan x="706" y="87.9">9.5</tspan><tspan x="819" y="87.9">$</tspan><tspan x="706" y="105.1">9.75</tspan><tspan x="819" y="105.1">$</tspan></text><text class="t r"><tspan x="869" y="70.7">11.60</tspan><tspan x="1009" y="70.7">0.32068</tspan><tspan x="1089" y="70.7">0.002505332</tspan><tspan x="869" y="87.9">9.67</tspan><tspan x="1009" y="87.9">0.27554</tspan><tspan x="1089" y="87.9">0.004305365</tspan><tspan x="869" y="105.1">7.73</tspan><tspan x="1009" y="105.1">0.22715</tspan><tspan x="1089" y="105.1">0.001774587</tspan></text></g>
<g id="u32" transform="translate(0,2202.24)"><circle class="nd" cx="649" cy="92" r="4.2"/><text class="t c" x="621" y="96.2">11.5</text><text class="t"><tspan x="706" y="70.7">9.25</tspan><tspan x="819" y="70.7">$</tspan><tspan x="706" y="87.9">9.5</tspan><tspan x="819" y="87.9">$</tspan><tspan x="706" y="105.1">9.75</tspan><tspan x="819" y="105.1">$</tspan></text><text class="t r"><tspan x="869" y="70.7">17.40</tspan><tspan x="1009" y="70.7">0.44010</tspan><tspan x="1089" y="70.7">0.001719147</tspan><tspan x="869" y="87.9">15.46</tspan><tspan x="1009" y="87.9">0.40270</tspan><tspan x="1089" y="87.9">0.003146082</tspan><tspan x="869" y="105.1">13.53</tspan><tspan x="1009" y="105.1">0.36301</tspan><tspan x="1089" y="105.1">0.001418005</tspan></text></g>
<g id="u33" transform="translate(0,2271.06)"><circle class="nd" cx="649" cy="92" r="4.2"/><text class="t c" x="621" y="96.2">9.75</text><text class="t"><tspan x="706" y="70.7">9.25</tspan><tspan x="819" y="70.7">$</tspan><tspan x="706" y="87.9">9.5</tspan><tspan x="819" y="87.9">$</tspan><tspan x="706" y="105.1">9.75</tspan><tspan x="819" y="105.1">$</tspan></text><text class="t r"><tspan x="869" y="70.7">4.20</tspan><tspan x="1009" y="70.7">0.13064</tspan><tspan x="1089" y="70.7">0.00025516</tspan><tspan x="869" y="87.9">2.10</tspan><tspan x="1009" y="87.9">0.06761</tspan><tspan x="1089" y="87.9">0.000264087</tspan><tspan x="857" y="105.1">-</tspan><tspan x="1009" y="105.1">0.00000</tspan><tspan x="1089" y="105.1">0</tspan></text></g>
<g id="u34" transform="translate(0,2339.88)"><circle class="nd" cx="649" cy="92" r="4.2"/><text class="t c" x="621" y="96.2">10.75</text><text class="t"><tspan x="706" y="70.7">9.25</tspan><tspan x="819" y="70.7">$</tspan><tspan x="706" y="87.9">9.5</tspan><tspan x="819" y="87.9">$</tspan><tspan x="706" y="105.1">9.75</tspan><tspan x="819" y="105.1">$</tspan></text><text class="t r"><tspan x="869" y="70.7">12.61</tspan><tspan x="1009" y="70.7">0.34317</tspan><tspan x="1089" y="70.7">0.001340516</tspan><tspan x="869" y="87.9">10.51</tspan><tspan x="1009" y="87.9">0.29555</tspan><tspan x="1089" y="87.9">0.002308959</tspan><tspan x="869" y="105.1">8.40</tspan><tspan x="1009" y="105.1">0.24422</tspan><tspan x="1089" y="105.1">0.00095397</tspan></text></g>
<g id="u35" transform="translate(0,2408.7)"><circle class="nd" cx="649" cy="92" r="4.2"/><text class="t c" x="621" y="96.2">11.5</text><text class="t"><tspan x="706" y="70.7">9.25</tspan><tspan x="819" y="70.7">$</tspan><tspan x="706" y="87.9">9.5</tspan><tspan x="819" y="87.9">$</tspan><tspan x="706" y="105.1">9.75</tspan><tspan x="819" y="105.1">$</tspan></text><text class="t r"><tspan x="869" y="70.7">18.91</tspan><tspan x="1009" y="70.7">0.46759</tspan><tspan x="1089" y="70.7">0.000913253</tspan><tspan x="869" y="87.9">16.81</tspan><tspan x="1009" y="87.9">0.42898</tspan><tspan x="1089" y="87.9">0.001675708</tspan><tspan x="869" y="105.1">14.71</tspan><tspan x="1009" y="105.1">0.38758</tspan><tspan x="1089" y="105.1">0.000756988</tspan></text></g>
<g id="u36" transform="translate(0,2477.52)"><circle class="nd" cx="649" cy="92" r="4.2"/><text class="t c" x="621" y="96.2">9.75</text><text class="t"><tspan x="706" y="70.7">9.25</tspan><tspan x="819" y="70.7">$</tspan><tspan x="706" y="87.9">9.5</tspan><tspan x="819" y="87.9">$</tspan><tspan x="706" y="105.1">9.75</tspan><tspan x="819" y="105.1">$</tspan></text><text class="t r"><tspan x="869" y="70.7">2.98</tspan><tspan x="1009" y="70.7">0.09456</tspan><tspan x="1089" y="70.7">0.000369372</tspan><tspan x="869" y="87.9">1.49</tspan><tspan x="1009" y="87.9">0.04845</tspan><tspan x="1089" y="87.9">0.000378543</tspan><tspan x="857" y="105.1">-</tspan><tspan x="1009" y="105.1">0.00000</tspan><tspan x="1089" y="105.1">0</tspan></text></g>
<g id="u37" transform="translate(0,2546.34)"><circle class="nd" cx="649" cy="92" r="4.2"/><text class="t c" x="621" y="96.2">10.75</text><text class="t"><tspan x="706" y="70.7">9.25</tspan><tspan x="819" y="70.7">$</tspan><tspan x="706" y="87.9">9.5</tspan><tspan x="819" y="87.9">$</tspan><tspan x="706" y="105.1">9.75</tspan><tspan x="819" y="105.1">$</tspan></text><text class="t r"><tspan x="869" y="70.7">8.93</tspan><tspan x="1009" y="70.7">0.25745</tspan><tspan x="1089" y="70.7">0.002011337</tspan><tspan x="869" y="87.9">7.44</tspan><tspan x="1009" y="87.9">0.21964</tspan><tspan x="1089" y="87.9">0.003431876</tspan><tspan x="869" y="105.1">5.96</tspan><tspan x="1009" y="105.1">0.18018</tspan><tspan x="1089" y="105.1">0.001407632</tspan></text></g>
<g id="u38" transform="translate(0,2615.16)"><circle class="nd" cx="649" cy="92" r="4.2"/><text class="t c" x="621" y="96.2">11.5</text><text class="t"><tspan x="706" y="70.7">9.25</tspan><tspan x="819" y="70.7">$</tspan><tspan x="706" y="87.9">9.5</tspan><tspan x="819" y="87.9">$</tspan><tspan x="706" y="105.1">9.75</tspan><tspan x="819" y="105.1">$</tspan></text><text class="t r"><tspan x="869" y="70.7">13.40</tspan><tspan x="1009" y="70.7">0.36024</tspan><tspan x="1089" y="70.7">0.001407199</tspan><tspan x="869" y="87.9">11.91</tspan><tspan x="1009" y="87.9">0.32767</tspan><tspan x="1089" y="87.9">0.00255989</tspan><tspan x="869" y="105.1">10.42</tspan><tspan x="1009" y="105.1">0.29343</tspan><tspan x="1089" y="105.1">0.001146212</tspan></text></g>
<g id="u39" transform="translate(0,2683.98)"><circle class="nd" cx="649" cy="92" r="4.2"/><text class="t c" x="621" y="96.2">9.75</text><text class="t"><tspan x="706" y="70.7">9.25</tspan><tspan x="819" y="70.7">$</tspan><tspan x="706" y="87.9">9.5</tspan><tspan x="819" y="87.9">$</tspan><tspan x="706" y="105.1">9.75</tspan><tspan x="819" y="105.1">$</tspan></text><text class="t r"><tspan x="869" y="70.7">4.76</tspan><tspan x="1009" y="70.7">0.14672</tspan><tspan x="1089" y="70.7">0.001146244</tspan><tspan x="869" y="87.9">2.38</tspan><tspan x="1009" y="87.9">0.07627</tspan><tspan x="1089" y="87.9">0.001191688</tspan><tspan x="857" y="105.1">-</tspan><tspan x="1009" y="105.1">0.00000</tspan><tspan x="1089" y="105.1">0</tspan></text></g>
<g id="u40" transform="translate(0,2752.8)"><circle class="nd" cx="649" cy="92" r="4.2"/><text class="t c" x="621" y="96.2">10.75</text><text class="t"><tspan x="706" y="70.7">9.25</tspan><tspan x="819" y="70.7">$</tspan><tspan x="706" y="87.9">9.5</tspan><tspan x="819" y="87.9">$</tspan><tspan x="706" y="105.1">9.75</tspan><tspan x="819" y="105.1">$</tspan></text><text class="t r"><tspan x="869" y="70.7">14.28</tspan><tspan x="1009" y="70.7">0.37874</tspan><tspan x="1089" y="70.7">0.005917758</tspan><tspan x="869" y="87.9">11.90</tspan><tspan x="1009" y="87.9">0.32744</tspan><tspan x="1089" y="87.9">0.010232557</tspan></text></g>
<g id="u41" transform="translate(0,2821.62)"><circle class="nd" cx="649" cy="92" r="4.2"/><text class="t c" x="621" y="96.2">11.5</text><text class="t"><tspan x="706" y="70.7">9.25</tspan><tspan x="819" y="70.7">$</tspan><tspan x="706" y="87.9">9.5</tspan><tspan x="819" y="87.9">$</tspan><tspan x="706" y="105.1">9.75</tspan><tspan x="819" y="105.1">$</tspan></text></g>
<g id="u42" transform="translate(0,2890.44)"><circle class="nd" cx="649" cy="92" r="4.2"/><text class="t c" x="621" y="96.2">9.75</text><text class="t"><tspan x="706" y="70.7">9.25</tspan><tspan x="819" y="70.7">$</tspan><tspan x="706" y="87.9">9.5</tspan><tspan x="819" y="87.9">$</tspan><tspan x="706" y="105.1">9.75</tspan><tspan x="819" y="105.1">$</tspan></text></g>
<g id="u43" transform="translate(0,2959.26)"><circle class="nd" cx="649" cy="92" r="4.2"/><text class="t c" x="621" y="96.2">10.75</text><text class="t"><tspan x="706" y="70.7">9.25</tspan><tspan x="819" y="70.7">$</tspan><tspan x="706" y="87.9">9.5</tspan><tspan x="819" y="87.9">$</tspan><tspan x="706" y="105.1">9.75</tspan><tspan x="819" y="105.1">$</tspan></text></g>
<g id="u44" transform="translate(0,3028.08)"><circle class="nd" cx="649" cy="92" r="4.2"/><text class="t c" x="621" y="96.2">11.5</text><text class="t"><tspan x="706" y="70.7">9.25</tspan><tspan x="819" y="70.7">$</tspan><tspan x="706" y="87.9">9.5</tspan><tspan x="819" y="87.9">$</tspan><tspan x="706" y="105.1">9.75</tspan><tspan x="819" y="105.1">$</tspan></text></g>
<g id="u45" transform="translate(0,3096.9)"><circle class="nd" cx="649" cy="92" r="4.2"/><text class="t c" x="621" y="96.2">9.75</text><text class="t"><tspan x="706" y="70.7">9.25</tspan><tspan x="819" y="70.7">$</tspan><tspan x="706" y="87.9">9.5</tspan><tspan x="819" y="87.9">$</tspan><tspan x="706" y="105.1">9.75</tspan><tspan x="819" y="105.1">$</tspan></text></g>
<g id="u46" transform="translate(0,3165.72)"><circle class="nd" cx="649" cy="92" r="4.2"/><text class="t c" x="621" y="96.2">10.75</text><text class="t"><tspan x="706" y="70.7">9.25</tspan><tspan x="819" y="70.7">$</tspan><tspan x="706" y="87.9">9.5</tspan><tspan x="819" y="87.9">$</tspan><tspan x="706" y="105.1">9.75</tspan><tspan x="819" y="105.1">$</tspan></text></g>
<g id="u47" transform="translate(0,3234.54)"><circle class="nd" cx="649" cy="92" r="4.2"/><text class="t c" x="621" y="96.2">11.5</text><text class="t"><tspan x="706" y="70.7">9.25</tspan><tspan x="819" y="70.7">$</tspan><tspan x="706" y="87.9">9.5</tspan><tspan x="819" y="87.9">$</tspan><tspan x="706" y="105.1">9.75</tspan><tspan x="819" y="105.1">$</tspan></text></g>
<g id="u48" transform="translate(0,3303.36)"><circle class="nd" cx="649" cy="92" r="4.2"/><text class="t c" x="621" y="96.2">9.75</text><text class="t"><tspan x="706" y="70.7">9.25</tspan><tspan x="819" y="70.7">$</tspan><tspan x="706" y="87.9">9.5</tspan><tspan x="819" y="87.9">$</tspan><tspan x="706" y="105.1">9.75</tspan><tspan x="819" y="105.1">$</tspan></text></g>
<g id="u49" transform="translate(0,3372.18)"><circle class="nd" cx="649" cy="92" r="4.2"/><text class="t c" x="621" y="96.2">10.75</text><text class="t"><tspan x="706" y="70.7">9.25</tspan><tspan x="819" y="70.7">$</tspan><tspan x="706" y="87.9">9.5</tspan><tspan x="819" y="87.9">$</tspan><tspan x="706" y="105.1">9.75</tspan><tspan x="819" y="105.1">$</tspan></text></g>
<g id="u50" transform="translate(0,3441)"><circle class="nd" cx="649" cy="92" r="4.2"/><text class="t c" x="621" y="96.2">11.5</text><text class="t"><tspan x="706" y="70.7">9.25</tspan><tspan x="819" y="70.7">$</tspan><tspan x="706" y="87.9">9.5</tspan><tspan x="819" y="87.9">$</tspan><tspan x="706" y="105.1">9.75</tspan><tspan x="819" y="105.1">$</tspan></text></g>
<g id="u51" transform="translate(0,3509.82)"><circle class="nd" cx="649" cy="92" r="4.2"/><text class="t c" x="621" y="96.2">9.75</text><text class="t"><tspan x="706" y="70.7">9.25</tspan><tspan x="819" y="70.7">$</tspan><tspan x="706" y="87.9">9.5</tspan><tspan x="819" y="87.9">$</tspan><tspan x="706" y="105.1">9.75</tspan><tspan x="819" y="105.1">$</tspan></text></g>
<g id="u52" transform="translate(0,3578.64)"><circle class="nd" cx="649" cy="92" r="4.2"/><text class="t c" x="621" y="96.2">10.75</text><text class="t"><tspan x="706" y="70.7">9.25</tspan><tspan x="819" y="70.7">$</tspan><tspan x="706" y="87.9">9.5</tspan><tspan x="819" y="87.9">$</tspan><tspan x="706" y="105.1">9.75</tspan><tspan x="819" y="105.1">$</tspan></text></g>
<g id="u53" transform="translate(0,3647.46)"><circle class="nd" cx="649" cy="92" r="4.2"/><text class="t c" x="621" y="96.2">11.5</text><text class="t"><tspan x="706" y="70.7">9.25</tspan><tspan x="819" y="70.7">$</tspan><tspan x="706" y="87.9">9.5</tspan><tspan x="819" y="87.9">$</tspan><tspan x="706" y="105.1">9.75</tspan><tspan x="819" y="105.1">$</tspan></text></g>
<g id="u54" transform="translate(0,3716.28)"><circle class="nd" cx="649" cy="92" r="4.2"/><text class="t c" x="621" y="96.2">9.75</text><text class="t"><tspan x="706" y="70.7">9.25</tspan><tspan x="819" y="70.7">$</tspan><tspan x="706" y="87.9">9.5</tspan><tspan x="819" y="87.9">$</tspan><tspan x="706" y="105.1">9.75</tspan><tspan x="819" y="105.1">$</tspan></text></g>
<g id="u55" transform="translate(0,3785.1)"><circle class="nd" cx="649" cy="92" r="4.2"/><text class="t c" x="621" y="96.2">10.75</text><text class="t"><tspan x="706" y="70.7">9.25</tspan><tspan x="819" y="70.7">$</tspan><tspan x="706" y="87.9">9.5</tspan><tspan x="819" y="87.9">$</tspan><tspan x="706" y="105.1">9.75</tspan><tspan x="819" y="105.1">$</tspan></text></g>
<g id="u56" transform="translate(0,3853.92)"><circle class="nd" cx="649" cy="92" r="4.2"/><text class="t c" x="621" y="96.2">11.5</text><text class="t"><tspan x="706" y="70.7">9.25</tspan><tspan x="819" y="70.7">$</tspan><tspan x="706" y="87.9">9.5</tspan><tspan x="819" y="87.9">$</tspan><tspan x="706" y="105.1">9.75</tspan><tspan x="819" y="105.1">$</tspan></text></g>
<g id="u57" transform="translate(0,3922.74)"><circle class="nd" cx="649" cy="92" r="4.2"/><text class="t c" x="621" y="96.2">9.75</text><text class="t"><tspan x="706" y="70.7">9.25</tspan><tspan x="819" y="70.7">$</tspan><tspan x="706" y="87.9">9.5</tspan><tspan x="819" y="87.9">$</tspan><tspan x="706" y="105.1">9.75</tspan><tspan x="819" y="105.1">$</tspan></text></g>
<g id="u58" transform="translate(0,3991.56)"><circle class="nd" cx="649" cy="92" r="4.2"/><text class="t c" x="621" y="96.2">10.75</text><text class="t"><tspan x="706" y="70.7">9.25</tspan><tspan x="819" y="70.7">$</tspan><tspan x="706" y="87.9">9.5</tspan><tspan x="819" y="87.9">$</tspan><tspan x="706" y="105.1">9.75</tspan><tspan x="819" y="105.1">$</tspan></text></g>
<g id="u59" transform="translate(0,4060.38)"><circle class="nd" cx="649" cy="92" r="4.2"/><text class="t c" x="621" y="96.2">11.5</text><text class="t"><tspan x="706" y="70.7">9.25</tspan><tspan x="819" y="70.7">$</tspan><tspan x="706" y="87.9">9.5</tspan><tspan x="819" y="87.9">$</tspan><tspan x="706" y="105.1">9.75</tspan><tspan x="819" y="105.1">$</tspan></text></g>
<g id="u60" transform="translate(0,4129.2)"><circle class="nd" cx="649" cy="92" r="4.2"/><text class="t c" x="621" y="96.2">9.75</text><text class="t"><tspan x="706" y="70.7">9.25</tspan><tspan x="819" y="70.7">$</tspan><tspan x="706" y="87.9">9.5</tspan><tspan x="819" y="87.9">$</tspan><tspan x="706" y="105.1">9.75</tspan><tspan x="819" y="105.1">$</tspan></text></g>
<g id="u61" transform="translate(0,4198.02)"><circle class="nd" cx="649" cy="92" r="4.2"/><text class="t c" x="621" y="96.2">10.75</text><text class="t"><tspan x="706" y="70.7">9.25</tspan><tspan x="819" y="70.7">$</tspan><tspan x="706" y="87.9">9.5</tspan><tspan x="819" y="87.9">$</tspan><tspan x="706" y="105.1">9.75</tspan><tspan x="819" y="105.1">$</tspan></text></g>
<g id="u62" transform="translate(0,4266.84)"><circle class="nd" cx="649" cy="92" r="4.2"/><text class="t c" x="621" y="96.2">11.5</text><text class="t"><tspan x="706" y="70.7">9.25</tspan><tspan x="819" y="70.7">$</tspan><tspan x="706" y="87.9">9.5</tspan><tspan x="819" y="87.9">$</tspan><tspan x="706" y="105.1">9.75</tspan><tspan x="819" y="105.1">$</tspan></text></g>
<g id="u63" transform="translate(0,4335.66)"><circle class="nd" cx="649" cy="92" r="4.2"/><text class="t c" x="621" y="96.2">9.75</text><text class="t"><tspan x="706" y="70.7">9.25</tspan><tspan x="819" y="70.7">$</tspan><tspan x="706" y="87.9">9.5</tspan><tspan x="819" y="87.9">$</tspan><tspan x="706" y="105.1">9.75</tspan><tspan x="819" y="105.1">$</tspan></text></g>
<g id="u64" transform="translate(0,4404.48)"><circle class="nd" cx="649" cy="92" r="4.2"/><text class="t c" x="621" y="96.2">10.75</text><text class="t"><tspan x="706" y="70.7">9.25</tspan><tspan x="819" y="70.7">$</tspan><tspan x="706" y="87.9">9.5</tspan><tspan x="819" y="87.9">$</tspan><tspan x="706" y="105.1">9.75</tspan><tspan x="819" y="105.1">$</tspan></text></g>
<g id="u65" transform="translate(0,4473.3)"><circle class="nd" cx="649" cy="92" r="4.2"/><text class="t c" x="621" y="96.2">11.5</text><text class="t"><tspan x="706" y="70.7">9.25</tspan><tspan x="819" y="70.7">$</tspan><tspan x="706" y="87.9">9.5</tspan><tspan x="819" y="87.9">$</tspan><tspan x="706" y="105.1">9.75</tspan><tspan x="819" y="105.1">$</tspan></text></g>
<g id="u66" transform="translate(0,4542.12)"><circle class="nd" cx="649" cy="92" r="4.2"/><text class="t c" x="621" y="96.2">9.75</text><text class="t"><tspan x="706" y="70.7">9.25</tspan><tspan x="819" y="70.7">$</tspan><tspan x="706" y="87.9">9.5</tspan><tspan x="819" y="87.9">$</tspan><tspan x="706" y="105.1">9.75</tspan><tspan x="819" y="105.1">$</tspan></text></g>
<g id="u67" transform="translate(0,4610.94)"><circle class="nd" cx="649" cy="92" r="4.2"/><text class="t c" x="621" y="96.2">10.75</text><text class="t"><tspan x="706" y="70.7">9.25</tspan><tspan x="819" y="70.7">$</tspan><tspan x="706" y="87.9">9.5</tspan><tspan x="819" y="87.9">$</tspan><tspan x="706" y="105.1">9.75</tspan><tspan x="819" y="105.1">$</tspan></text></g>
<g id="u68" transform="translate(0,4679.76)"><circle class="nd" cx="649" cy="92" r="4.2"/><text class="t c" x="621" y="96.2">11.5</text><text class="t"><tspan x="706" y="70.7">9.25</tspan><tspan x="819" y="70.7">$</tspan><tspan x="706" y="87.9">9.5</tspan><tspan x="819" y="87.9">$</tspan><tspan x="706" y="105.1">9.75</tspan><tspan x="819" y="105.1">$</tspan></text></g>
<g id="u69" transform="translate(0,4748.58)"><circle class="nd" cx="649" cy="92" r="4.2"/><text class="t c" x="621" y="96.2">9.75</text><text class="t"><tspan x="706" y="70.7">9.25</tspan><tspan x="819" y="70.7">$</tspan><tspan x="706" y="87.9">9.5</tspan><tspan x="819" y="87.9">$</tspan><tspan x="706" y="105.1">9.75</tspan><tspan x="819" y="105.1">$</tspan></text></g>
<g id="u70" transform="translate(0,4817.4)"><circle class="nd" cx="649" cy="92" r="4.2"/><text class="t c" x="621" y="96.2">10.75</text><text class="t"><tspan x="706" y="70.7">9.25</tspan><tspan x="819" y="70.7">$</tspan><tspan x="706" y="87.9">9.5</tspan><tspan x="819" y="87.9">$</tspan><tspan x="706" y="105.1">9.75</tspan><tspan x="819" y="105.1">$</tspan></text></g>
<g id="u71" transform="translate(0,4886.22)"><circle class="nd" cx="649" cy="92" r="4.2"/><text class="t c" x="621" y="96.2">11.5</text><text class="t"><tspan x="706" y="70.7">9.25</tspan><tspan x="819" y="70.7">$</tspan><tspan x="706" y="87.9">9.5</tspan><tspan x="819" y="87.9">$</tspan><tspan x="706" y="105.1">9.75</tspan><tspan x="819" y="105.1">$</tspan></text></g>
<g id="u72" transform="translate(0,4955.04)"><circle class="nd" cx="649" cy="92" r="4.2"/><text class="t c" x="621" y="96.2">9.75</text><text class="t"><tspan x="706" y="70.7">9.25</tspan><tspan x="819" y="70.7">$</tspan><tspan x="706" y="87.9">9.5</tspan><tspan x="819" y="87.9">$</tspan><tspan x="706" y="105.1">9.75</tspan><tspan x="819" y="105.1">$</tspan></text></g>
<g id="u73" transform="translate(0,5023.86)"><circle class="nd" cx="649" cy="92" r="4.2"/><text class="t c" x="621" y="96.2">10.75</text><text class="t"><tspan x="706" y="70.7">9.25</tspan><tspan x="819" y="70.7">$</tspan><tspan x="706" y="87.9">9.5</tspan><tspan x="819" y="87.9">$</tspan><tspan x="706" y="105.1">9.75</tspan><tspan x="819" y="105.1">$</tspan></text></g>
<g id="u74" transform="translate(0,5092.68)"><circle class="nd" cx="649" cy="92" r="4.2"/><text class="t c" x="621" y="96.2">11.5</text><text class="t"><tspan x="706" y="70.7">9.25</tspan><tspan x="819" y="70.7">$</tspan><tspan x="706" y="87.9">9.5</tspan><tspan x="819" y="87.9">$</tspan><tspan x="706" y="105.1">9.75</tspan><tspan x="819" y="105.1">$</tspan></text></g>
<g id="u75" transform="translate(0,5161.5)"><circle class="nd" cx="649" cy="92" r="4.2"/><text class="t c" x="621" y="96.2">9.75</text><text class="t"><tspan x="706" y="70.7">9.25</tspan><tspan x="819" y="70.7">$</tspan><tspan x="706" y="87.9">9.5</tspan><tspan x="819" y="87.9">$</tspan><tspan x="706" y="105.1">9.75</tspan><tspan x="819" y="105.1">$</tspan></text></g>
<g id="u76" transform="translate(0,5230.32)"><circle class="nd" cx="649" cy="92" r="4.2"/><text class="t c" x="621" y="96.2">10.75</text><text class="t"><tspan x="706" y="70.7">9.25</tspan><tspan x="819" y="70.7">$</tspan><tspan x="706" y="87.9">9.5</tspan><tspan x="819" y="87.9">$</tspan><tspan x="706" y="105.1">9.75</tspan><tspan x="819" y="105.1">$</tspan></text></g>
<g id="u77" transform="translate(0,5299.14)"><circle class="nd" cx="649" cy="92" r="4.2"/><text class="t c" x="621" y="96.2">11.5</text><text class="t"><tspan x="706" y="70.7">9.25</tspan><tspan x="819" y="70.7">$</tspan><tspan x="706" y="87.9">9.5</tspan><tspan x="819" y="87.9">$</tspan><tspan x="706" y="105.1">9.75</tspan><tspan x="819" y="105.1">$</tspan></text></g>
<g id="u78" transform="translate(0,5367.96)"><circle class="nd" cx="649" cy="92" r="4.2"/><text class="t c" x="621" y="96.2">9.75</text><text class="t"><tspan x="706" y="70.7">9.25</tspan><tspan x="819" y="70.7">$</tspan><tspan x="706" y="87.9">9.5</tspan><tspan x="819" y="87.9">$</tspan><tspan x="706" y="105.1">9.75</tspan><tspan x="819" y="105.1">$</tspan></text></g>
<g id="u79" transform="translate(0,5436.78)"><circle class="nd" cx="649" cy="92" r="4.2"/><text class="t c" x="621" y="96.2">10.75</text><text class="t"><tspan x="706" y="70.7">9.25</tspan><tspan x="819" y="70.7">$</tspan><tspan x="706" y="87.9">9.5</tspan><tspan x="819" y="87.9">$</tspan><tspan x="706" y="105.1">9.75</tspan><tspan x="819" y="105.1">$</tspan></text></g>
<g id="u80" transform="translate(0,5505.6)"><circle class="nd" cx="649" cy="92" r="4.2"/><text class="t c" x="621" y="96.2">11.5</text><text class="t"><tspan x="706" y="70.7">9.25</tspan><tspan x="819" y="70.7">$</tspan><tspan x="706" y="87.9">9.5</tspan><tspan x="819" y="87.9">$</tspan><tspan x="706" y="105.1">9.75</tspan><tspan x="819" y="105.1">$</tspan></text></g>
</g>
</svg>
